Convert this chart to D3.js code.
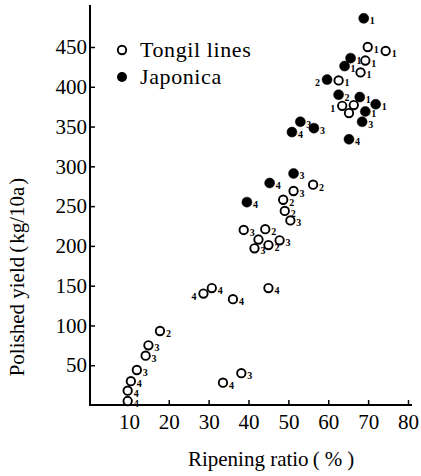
<!DOCTYPE html>
<html><head><meta charset="utf-8">
<script src="https://cdn.jsdelivr.net/npm/d3@7"></script>
<style>body{margin:0;background:#fff}</style>
</head><body>
<svg id="c" width="421" height="476" font-family="Liberation Serif"></svg>
<script>
// ---- data ----
const xTicks = [10, 20, 30, 40, 50, 60, 70, 80];
const yTicks = [50, 100, 150, 200, 250, 300, 350, 400, 450];
const seriesNames = ["Tongil lines", "Japonica"];

const tongilX = [9.7, 9.7, 10.5, 12, 14.2, 14.9, 17.8, 28.7, 30.8, 36.1, 33.6, 38.2, 45,
  69.9, 74.4, 69.3, 68.1, 62.6, 63.5, 66.4, 65.2,
  56.2, 51.3, 48.7, 49.1, 50.5, 38.8, 44.2, 42.5, 47.8, 45, 41.5];
const tongilY = [5, 18, 30, 44, 62, 75, 93, 140, 147, 133, 28, 40, 147,
  450, 445, 433, 418, 408, 376, 377, 367,
  277, 269, 258, 244, 232, 220, 221, 208, 207, 201, 197];
const tongilLab = ["4", "4", "4", "3", "3", "3", "2", "4", "4", "4", "4", "3", "4",
  "1", "1", "1", "1", "1", "1", "", "",
  "2", "3", "2", "2", "3", "3", "2", "", "3", "2", "3"];

const japX = [68.9, 65.6, 64.1, 59.7, 62.6, 67.9, 71.9, 69.3, 68.5, 53, 50.9, 56.4, 65.2, 51.3, 45.3, 39.6];
const japY = [486, 436, 426, 409, 390, 387, 378, 369, 356, 356, 343, 348, 334, 291, 279, 255];
const japLab = ["1", "1", "1", "2", "2", "1", "1", "1", "3", "3", "4", "3", "4", "3", "4", "4"];

// ---- layout ----
const svg = d3.select("#c");
const x = d3.scaleLinear().domain([0, 80]).range([89, 408]);
const y = d3.scaleLinear().domain([0, 450]).range([405, 47]);
const SERIF = "Liberation Serif";
const leftLabels = {t: [7, 18], j: [3]};

function wrap(sel) {
  sel.each(function () {
    const t = d3.select(this), s = t.text();
    t.text(null).append("tspan").attr("dx", 0.01).attr("font-family", SERIF).text(s);
  });
}

// axes
const gx = svg.append("g").attr("transform", "translate(0,405)")
  .call(d3.axisBottom(x).tickValues(xTicks).tickSize(-5).tickSizeOuter(0).tickPadding(9));
const gy = svg.append("g").attr("transform", "translate(90,0)")
  .call(d3.axisLeft(y).tickValues(yTicks).tickSize(-5).tickSizeOuter(0).tickPadding(3));
[gx, gy].forEach(g => {
  g.attr("font-family", SERIF).attr("font-size", 21);
  g.select(".domain").remove();
  g.selectAll(".tick line").attr("stroke", "#000").attr("stroke-width", 1.5);
  g.selectAll(".tick text").attr("fill", "#000").call(wrap);
});
svg.append("line").attr("x1", 90).attr("x2", 90).attr("y1", 5).attr("y2", 406)
  .attr("stroke", "#000").attr("stroke-width", 2);
svg.append("line").attr("x1", 89).attr("x2", 412).attr("y1", 405).attr("y2", 405)
  .attr("stroke", "#000").attr("stroke-width", 2);

// axis titles
const xt = svg.append("text").attr("x", 271).attr("y", 466).attr("text-anchor", "middle")
  .attr("font-family", SERIF).attr("font-size", 21);
xt.append("tspan").attr("dx", 0.01).text("Ripening ratio");
xt.append("tspan").attr("dx", 4).text("(");
xt.append("tspan").attr("dx", 5).text("%");
xt.append("tspan").attr("dx", 5).text(")");

const yt = svg.append("text").attr("transform", "translate(24,277) rotate(-90)")
  .attr("text-anchor", "middle").attr("font-family", SERIF).attr("font-size", 21);
yt.append("tspan").attr("dx", 0.01).text("Polished yield");
yt.append("tspan").attr("dx", 4).text("(");
yt.append("tspan").attr("dx", 2).text("kg/10a");
yt.append("tspan").attr("dx", 2).text(")");

// points
function drawSeries(xs, ys, labs, filled, key) {
  const data = xs.map((v, i) => ({x: v, y: ys[i], l: labs[i], i}));
  const g = svg.append("g");
  g.selectAll("circle").data(data).join("circle")
    .attr("cx", d => x(d.x)).attr("cy", d => y(d.y))
    .attr("r", filled ? 5 : 4.2)
    .attr("fill", filled ? "#000" : "#fff")
    .attr("stroke", "#000").attr("stroke-width", filled ? 0.5 : 1.9);
  g.selectAll("text").data(data.filter(d => d.l)).join("text")
    .attr("x", d => x(d.x) + (leftLabels[key].includes(d.i) ? -7 : 6))
    .attr("y", d => y(d.y) + 6)
    .attr("text-anchor", d => leftLabels[key].includes(d.i) ? "end" : "start")
    .attr("font-family", SERIF).attr("font-weight", "bold").attr("font-size", 10)
    .text(d => d.l);
}
drawSeries(tongilX, tongilY, tongilLab, false, "t");
drawSeries(japX, japY, japLab, true, "j");

// legend
const leg = svg.append("g");
leg.append("circle").attr("cx", 122).attr("cy", 50).attr("r", 4.2)
  .attr("fill", "#fff").attr("stroke", "#000").attr("stroke-width", 1.9);
leg.append("circle").attr("cx", 122).attr("cy", 77).attr("r", 5).attr("fill", "#000");
leg.selectAll("text").data(seriesNames).join("text")
  .attr("x", 140).attr("y", (d, i) => 57 + i * 27)
  .attr("font-family", SERIF).attr("font-size", 22).attr("letter-spacing", 0.6)
  .text(d => d).call(wrap);
</script>
</body></html>
